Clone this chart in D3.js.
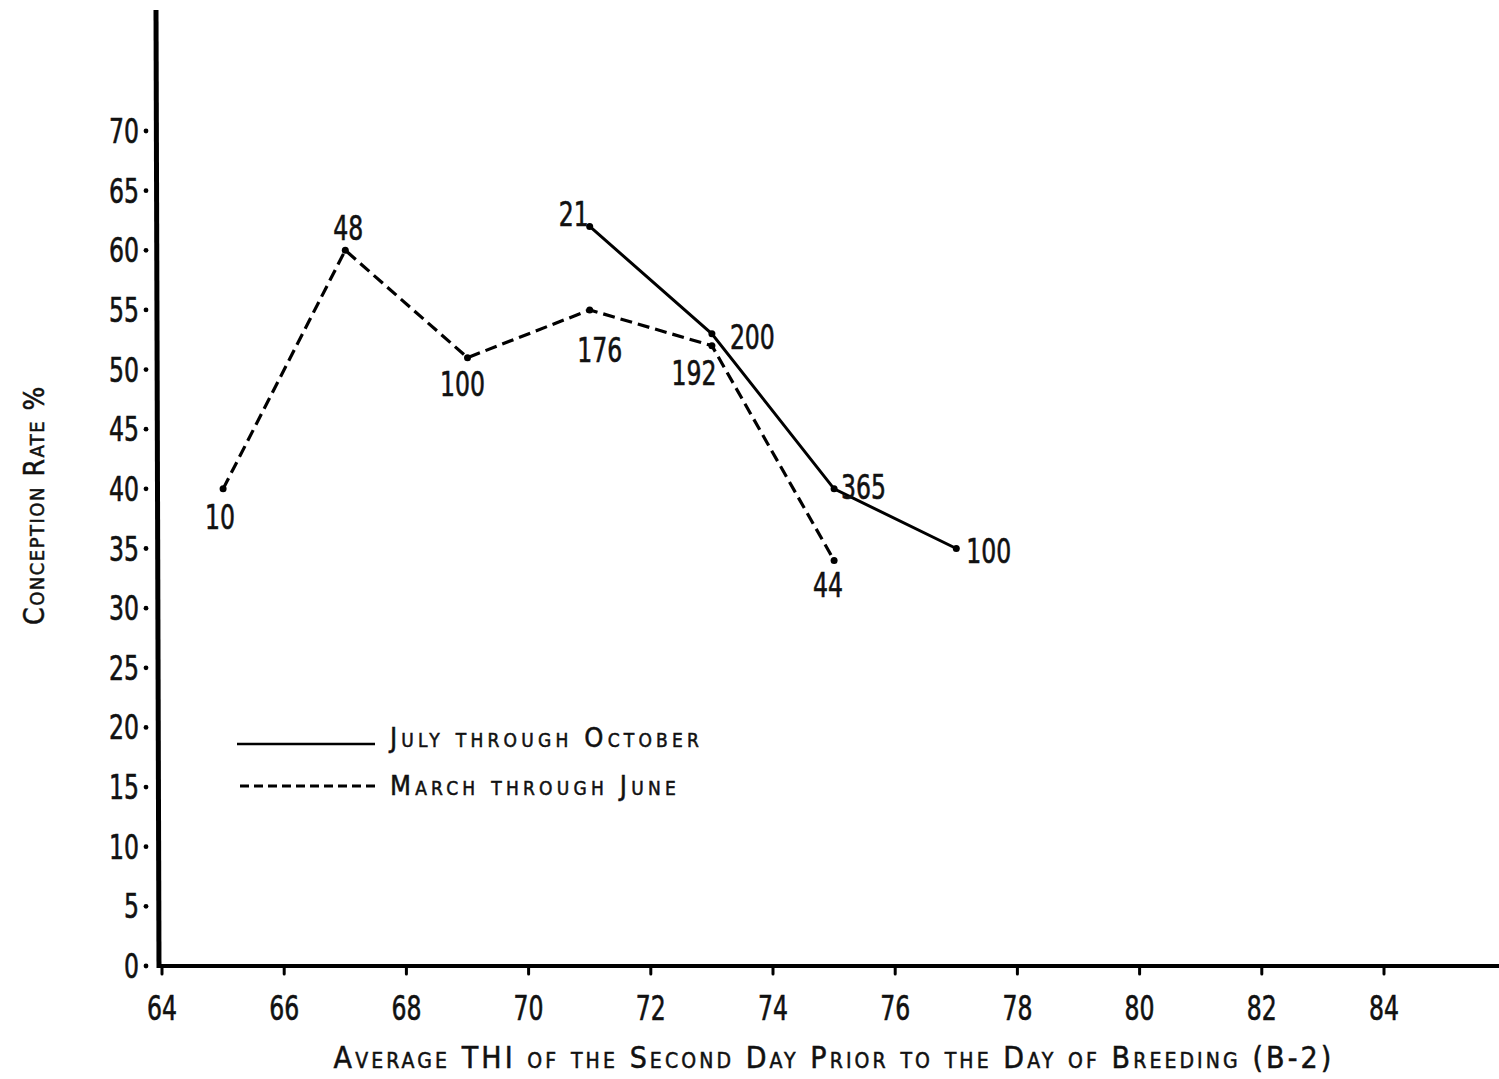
<!DOCTYPE html>
<html>
<head>
<meta charset="utf-8">
<script src="https://cdn.jsdelivr.net/npm/d3@7/dist/d3.min.js"></script>
<style>
  html, body { margin: 0; padding: 0; background: #fff; }
  svg { display: block; }
  .num { font-family: "DejaVu Sans Condensed", "Liberation Sans Narrow", "Liberation Sans", sans-serif; font-size: 34px; fill: #111; stroke: #111; stroke-width: 0.6px; }
  .title { font-family: "DejaVu Sans Condensed", "Liberation Sans Narrow", sans-serif; font-variant: small-caps; fill: #111; stroke: #111; stroke-width: 0.5px; }
</style>
</head>
<body>
<svg id="chart" width="1499" height="1079"></svg>
<script>
// THI (temperature-humidity index) values on the x axis
const thiTicks = [64, 66, 68, 70, 72, 74, 76, 78, 80, 82, 84];
const rateTicks = [0, 5, 10, 15, 20, 25, 30, 35, 40, 45, 50, 55, 60, 65, 70];

// July through October
const julOctTHI = [71, 73, 75, 77];
const julOctRate = [62, 53, 40, 35];
const julOctN = [21, 200, 365, 100];

// March through June
const marJunTHI = [65, 67, 69, 71, 73, 75];
const marJunRate = [40, 60, 51, 55, 52, 34];
const marJunN = [10, 48, 100, 176, 192, 44];

const svg = d3.select("#chart");

const x = d3.scaleLinear().domain([64, 84]).range([162, 1384]);
const y = d3.scaleLinear().domain([0, 70]).range([966, 131]);

// Narrow typewriter-style numerals: condensed face squeezed horizontally
function num(parent, px, py, txt, anchor) {
  return parent.append("text").attr("class", "num")
    .attr("transform", `translate(${px},${py}) scale(0.77,1)`)
    .attr("text-anchor", anchor || "middle")
    .text(txt);
}

// Axis lines
svg.append("line").attr("x1", 156).attr("x2", 159).attr("y1", 10).attr("y2", 968)
  .attr("stroke", "#000").attr("stroke-width", 5);
svg.append("line").attr("x1", 158).attr("x2", 1499).attr("y1", 966).attr("y2", 966)
  .attr("stroke", "#000").attr("stroke-width", 4);

// Y ticks: small dots left of the axis, labels right-aligned
const yg = svg.append("g");
rateTicks.forEach(v => {
  yg.append("circle").attr("cx", 146).attr("cy", y(v)).attr("r", 2.4).attr("fill", "#000");
  num(yg, 139, y(v) + 12, v, "end");
});

// X ticks: small marks under the axis, labels below
const xg = svg.append("g");
thiTicks.forEach(v => {
  xg.append("line").attr("x1", x(v)).attr("x2", x(v)).attr("y1", 966).attr("y2", 974)
    .attr("stroke", "#000").attr("stroke-width", 3).attr("stroke-linecap", "round");
  num(xg, x(v), 1020, v, "middle");
});

// Series lines
const line = d3.line().x(d => x(d[0])).y(d => y(d[1]));
const julOct = julOctTHI.map((t, i) => [t, julOctRate[i], julOctN[i]]);
const marJun = marJunTHI.map((t, i) => [t, marJunRate[i], marJunN[i]]);

svg.append("path").datum(marJun).attr("d", line).attr("fill", "none")
  .attr("stroke", "#000").attr("stroke-width", 3.2).attr("stroke-dasharray", "12 6");
svg.append("path").datum(julOct).attr("d", line).attr("fill", "none")
  .attr("stroke", "#000").attr("stroke-width", 3);

[marJun, julOct].forEach(s => {
  svg.selectAll(null).data(s).enter().append("circle")
    .attr("cx", d => x(d[0])).attr("cy", d => y(d[1])).attr("r", 3.5).attr("fill", "#000");
});

// Sample-size labels beside each point: [dx, dy, anchor]
const marJunLabelPos = [[-3, 40, "middle"], [3, -10, "middle"], [-5, 38, "middle"], [10, 52, "middle"], [-18, 39, "middle"], [-6, 37, "middle"]];
const julOctLabelPos = [[-16, 0, "middle"], [18, 15, "start"], [7, 10, "start"], [10, 14, "start"]];

const lg = svg.append("g");
marJun.forEach((d, i) => num(lg, x(d[0]) + marJunLabelPos[i][0], y(d[1]) + marJunLabelPos[i][1], d[2], marJunLabelPos[i][2]));
julOct.forEach((d, i) => num(lg, x(d[0]) + julOctLabelPos[i][0], y(d[1]) + julOctLabelPos[i][1], d[2], julOctLabelPos[i][2]));

// Legend
svg.append("line").attr("x1", 237).attr("x2", 375).attr("y1", 744).attr("y2", 744)
  .attr("stroke", "#000").attr("stroke-width", 2.5);
svg.append("line").attr("x1", 240).attr("x2", 375).attr("y1", 786).attr("y2", 786)
  .attr("stroke", "#000").attr("stroke-width", 2.8).attr("stroke-dasharray", "9 5");
svg.append("text").attr("class", "title").attr("x", 390).attr("y", 747)
  .attr("font-size", 27).attr("letter-spacing", 4.2).text("July through October");
svg.append("text").attr("class", "title").attr("x", 390).attr("y", 795)
  .attr("font-size", 27).attr("letter-spacing", 4.2).text("March through June");

// Axis titles
svg.append("text").attr("class", "title").attr("x", 834).attr("y", 1068)
  .attr("text-anchor", "middle").attr("font-size", 30).attr("letter-spacing", 3.1)
  .text("Average THI of the Second Day Prior to the Day of Breeding (B-2)");
svg.append("text").attr("class", "title")
  .attr("transform", "translate(44,505) rotate(-90)")
  .attr("text-anchor", "middle").attr("font-size", 28).attr("letter-spacing", 1.5)
  .text("Conception Rate %");
</script>
</body>
</html>
